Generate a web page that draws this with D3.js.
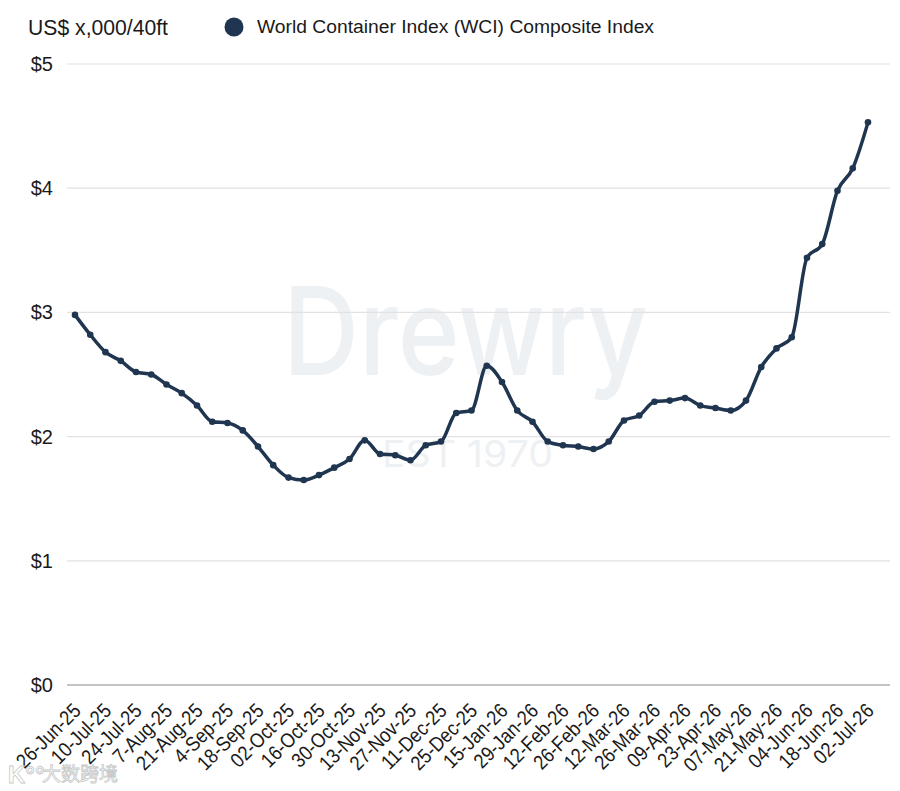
<!DOCTYPE html>
<html>
<head>
<meta charset="utf-8">
<script src="https://cdn.jsdelivr.net/npm/d3@7"></script>
<style>
  body { margin: 0; background: #fff; }
  svg { display: block; font-family: "Liberation Sans", Arial, sans-serif; }
</style>
</head>
<body>
<div id="chart"></div>
<script>
// weekly dates, one per point (1-Jan-26 week is absent in the source)
const dates = [
  '26-Jun-25', '03-Jul-25', '10-Jul-25', '17-Jul-25', '24-Jul-25', '31-Jul-25', '7-Aug-25', '14-Aug-25',
  '21-Aug-25', '28-Aug-25', '4-Sep-25', '11-Sep-25', '18-Sep-25', '25-Sep-25', '02-Oct-25', '09-Oct-25',
  '16-Oct-25', '23-Oct-25', '30-Oct-25', '06-Nov-25', '13-Nov-25', '20-Nov-25', '27-Nov-25', '04-Dec-25',
  '11-Dec-25', '18-Dec-25', '25-Dec-25', '08-Jan-26', '15-Jan-26', '22-Jan-26', '29-Jan-26', '05-Feb-26',
  '12-Feb-26', '19-Feb-26', '26-Feb-26', '05-Mar-26', '12-Mar-26', '19-Mar-26', '26-Mar-26', '02-Apr-26',
  '09-Apr-26', '16-Apr-26', '23-Apr-26', '30-Apr-26', '07-May-26', '14-May-26', '21-May-26', '28-May-26',
  '04-Jun-26', '11-Jun-26', '18-Jun-26', '25-Jun-26', '02-Jul-26'
];
// US$ x,000 per 40ft
const wci = [
  2.98, 2.82, 2.68, 2.61, 2.52, 2.50, 2.42, 2.35, 2.25, 2.12, 2.11, 2.05, 1.92, 1.77, 1.67, 1.65,
  1.69, 1.75, 1.82, 1.97, 1.86, 1.85, 1.81, 1.93, 1.96, 2.19, 2.21, 2.57, 2.44, 2.21, 2.12, 1.96,
  1.93, 1.92, 1.90, 1.96, 2.13, 2.17, 2.28, 2.29, 2.31, 2.25, 2.23, 2.21, 2.29, 2.56, 2.71, 2.80,
  3.44, 3.55, 3.98, 4.16, 4.53
];
const yTicks = [0, 1, 2, 3, 4, 5];
const tickLabels = dates.filter((d, i) => i % 2 === 0);

const seriesName = 'World Container Index (WCI) Composite Index';
const unitLabel = 'US$ x,000/40ft';
const lineColor = '#1f3550';

const width = 900, height = 791;
const margin = { top: 64, right: 23, bottom: 106, left: 67 };

const svg = d3.select('#chart').append('svg')
  .attr('width', width)
  .attr('height', height);

const x = d3.scalePoint()
  .domain(dates)
  .range([75, 868]);

const y = d3.scaleLinear()
  .domain([0, 5])
  .range([height - margin.bottom, margin.top]);

// faint Drewry watermark
const wm = svg.append('g').attr('fill', '#eef1f4');
wm.append('text')
  .attr('x', 283).attr('y', 375)
  .attr('textLength', 365)
  .attr('lengthAdjust', 'spacingAndGlyphs')
  .style('font-family', 'Inter, sans-serif')
  .style('font-size', '122px')
  .style('font-weight', '500')
  .text('Drewry');
wm.append('text')
  .attr('x', 382).attr('y', 467)
  .attr('textLength', 171)
  .attr('lengthAdjust', 'spacingAndGlyphs')
  .style('font-family', 'Inter, sans-serif')
  .style('font-size', '37px')
  .text('EST 1970');

// gridlines
svg.append('g')
  .selectAll('line')
  .data(yTicks)
  .join('line')
  .attr('x1', 67)
  .attr('x2', width - margin.right + 13)
  .attr('y1', d => y(d))
  .attr('y2', d => y(d))
  .attr('stroke', d => d === 0 ? '#c4c4c4' : '#e2e2e2')
  .attr('stroke-width', d => d === 0 ? 2 : 1.2);

// y labels
svg.append('g')
  .selectAll('text')
  .data(yTicks)
  .join('text')
  .attr('x', 53)
  .attr('y', d => y(d))
  .attr('dy', '0.35em')
  .attr('text-anchor', 'end')
  .attr('fill', '#1a1a1a')
  .style('font-size', '20px')
  .text(d => '$' + d);

// x labels, rotated and slightly narrowed
svg.append('g')
  .selectAll('text')
  .data(tickLabels)
  .join('text')
  .attr('transform', d => `translate(${x(d) + 7},${y(0) + 27}) rotate(-45) scale(0.88,1)`)
  .attr('text-anchor', 'end')
  .attr('fill', '#1a1a1a')
  .style('font-size', '20.5px')
  .text(d => d);

// line + points
const line = d3.line()
  .x((d, i) => x(dates[i]))
  .y(d => y(d))
  .curve(d3.curveMonotoneX);

svg.append('path')
  .datum(wci)
  .attr('d', line)
  .attr('fill', 'none')
  .attr('stroke', lineColor)
  .attr('stroke-width', 3.5)
  .attr('stroke-linejoin', 'round');

svg.append('g')
  .selectAll('circle')
  .data(wci)
  .join('circle')
  .attr('cx', (d, i) => x(dates[i]))
  .attr('cy', d => y(d))
  .attr('r', 3.3)
  .attr('fill', lineColor);

// header: unit + legend
svg.append('text')
  .attr('x', 28).attr('y', 35)
  .attr('fill', '#1a1a1a')
  .attr('textLength', 140)
  .attr('lengthAdjust', 'spacingAndGlyphs')
  .style('font-size', '22px')
  .text(unitLabel);

svg.append('circle')
  .attr('cx', 234).attr('cy', 27)
  .attr('r', 9.5)
  .attr('fill', lineColor);

svg.append('text')
  .attr('x', 257).attr('y', 33)
  .attr('fill', '#1a1a1a')
  .attr('textLength', 397)
  .attr('lengthAdjust', 'spacingAndGlyphs')
  .style('font-size', '18px')
  .text(seriesName);

// corner watermark
const cw = svg.append('g')
  .attr('fill', '#fff')
  .attr('stroke', '#c9c9c9')
  .attr('stroke-width', 0.8);
cw.append('text')
  .attr('x', 8).attr('y', 783)
  .style('font-size', '24px')
  .style('font-weight', '700')
  .text('K°°');
cw.append('text')
  .attr('x', 42).attr('y', 781)
  .style('font-size', '19px')
  .style('font-family', '"Noto Sans CJK SC", sans-serif')
  .text('大数跨境');
</script>
</body>
</html>
